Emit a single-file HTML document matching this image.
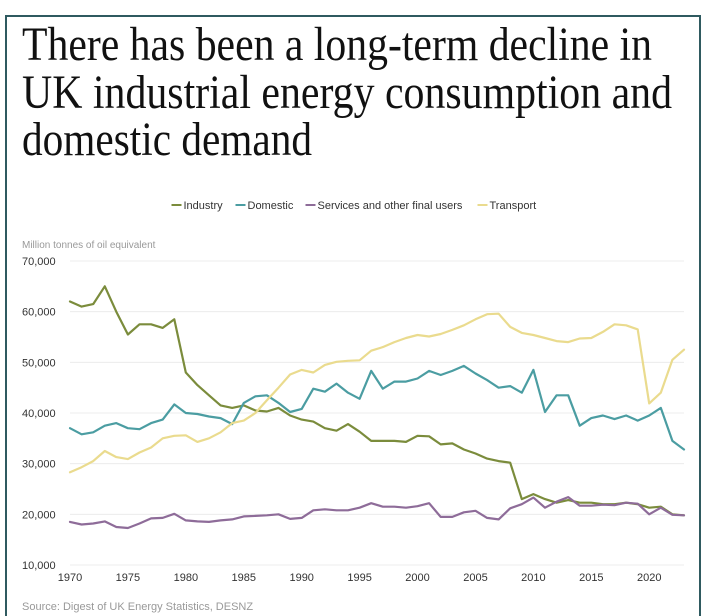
<!DOCTYPE html>
<html><head><meta charset="utf-8"><style>
html,body{margin:0;padding:0;background:#fff;}
body{width:704px;height:616px;position:relative;overflow:hidden;}
svg{position:absolute;left:0;top:0;}
</style></head><body>
<svg width="704" height="616" xmlns="http://www.w3.org/2000/svg">
<rect x="6" y="16" width="694" height="610" fill="#fff" stroke="#2f5a60" stroke-width="2"/>
<g font-family="'Liberation Serif', serif" font-size="48" fill="#111">
<text x="22" y="60" textLength="630" lengthAdjust="spacingAndGlyphs">There has been a long-term decline in</text>
<text x="22" y="108" textLength="650" lengthAdjust="spacingAndGlyphs">UK industrial energy consumption and</text>
<text x="22" y="155" textLength="290" lengthAdjust="spacingAndGlyphs">domestic demand</text>
</g>
<g id="legend" font-family="'Liberation Sans', sans-serif" font-size="11" fill="#333"></g>
<text x="22" y="248" font-family="'Liberation Sans', sans-serif" font-size="10" fill="#999">Million tonnes of oil equivalent</text>
<g id="grid"></g>
<g id="yticks" font-family="'Liberation Sans', sans-serif" font-size="11" fill="#333"></g>
<g id="xticks" font-family="'Liberation Sans', sans-serif" font-size="11" fill="#333"></g>
<g id="lines"></g>
<text x="22" y="610" font-family="'Liberation Sans', sans-serif" font-size="11" fill="#999">Source: Digest of UK Energy Statistics, DESNZ</text>
</svg>
<script>
const years = Array.from({length:54},(_, i)=>1970+i);
const industry = [62,61,61.5,65,60,55.5,57.5,57.5,56.8,58.5,48,45.5,43.5,41.5,41,41.5,40.5,40.3,41,39.5,38.7,38.3,37,36.5,37.8,36.3,34.5,34.5,34.5,34.3,35.5,35.4,33.8,34,32.8,32,31,30.5,30.2,23,24,23,22.3,22.8,22.3,22.3,22,22,22.3,22,21.3,21.5,20,19.8];
const domestic = [37,35.8,36.2,37.5,38,37,36.8,38,38.7,41.7,40,39.8,39.3,39,37.8,42,43.3,43.5,42,40.2,40.8,44.8,44.2,45.8,44,42.8,48.3,44.8,46.2,46.2,46.8,48.3,47.5,48.3,49.3,47.8,46.5,45,45.3,44,48.5,40.2,43.5,43.5,37.5,39,39.5,38.8,39.5,38.5,39.5,41,34.5,32.8];
const services = [18.5,18,18.2,18.6,17.5,17.3,18.2,19.2,19.3,20.1,18.8,18.6,18.5,18.8,19,19.6,19.7,19.8,20,19.1,19.3,20.8,21,20.8,20.8,21.3,22.2,21.5,21.5,21.3,21.6,22.2,19.5,19.5,20.4,20.7,19.3,19,21.2,22,23.3,21.3,22.5,23.4,21.7,21.7,21.9,21.8,22.3,22.1,20,21.3,19.9,19.8];
const transport = [28.3,29.3,30.5,32.5,31.3,30.9,32.2,33.2,35,35.5,35.6,34.3,35,36.2,38,38.5,40,42.5,45,47.6,48.5,48,49.5,50.1,50.3,50.4,52.3,53,54,54.8,55.4,55.1,55.6,56.4,57.3,58.5,59.5,59.6,57,55.8,55.4,54.8,54.2,54,54.7,54.8,56,57.5,57.3,56.5,41.9,44,50.5,52.5];
const yTicks = [10000,20000,30000,40000,50000,60000,70000];
const xTicks = [1970,1975,1980,1985,1990,1995,2000,2005,2010,2015,2020];
const seriesNames = ["Industry","Domestic","Services and other final users","Transport"];
const colors = ["#7b8c3c","#4b9da2","#8e6c99","#eadb8e"];

const NS="http://www.w3.org/2000/svg";
const X = y => 70 + (y-1970)*(614/53);
const Y = v => 565 - (v-10000)*(304/60000);
function mk(tag, attrs, parent){const e=document.createElementNS(NS,tag);for(const k in attrs)e.setAttribute(k,attrs[k]);parent.appendChild(e);return e;}
const grid=document.getElementById('grid'), yt=document.getElementById('yticks'), xt=document.getElementById('xticks'), lines=document.getElementById('lines'), leg=document.getElementById('legend');
yTicks.forEach(t=>{
  const l=mk('line',{x1:70,x2:684,y1:Y(t),y2:Y(t),stroke:'#ececec','stroke-width':1},grid);
  
  
  const tx=mk('text',{x:22,y:Y(t)+4},yt); tx.textContent=t.toLocaleString('en-US');
  
  
});
xTicks.forEach(t=>{
  const tx=mk('text',{x:X(t),y:581,'text-anchor':'middle'},xt); tx.textContent=t;
  
  
});
[industry,domestic,services,transport].forEach((s,i)=>{
  const pts=s.map((v,j)=>X(years[j]).toFixed(1)+','+Y(v*1000).toFixed(1)).join(' ');
  const p=mk('polyline',{points:pts,fill:'none',stroke:colors[i],'stroke-width':2.2,'stroke-linejoin':'round','stroke-linecap':'round'},lines);
  
  
});
// legend
const widths=[52,58,160,55]; let total=widths.reduce((a,b)=>a+b,0)+12*3; let lx=352-total/2;
seriesNames.forEach((n,i)=>{
  const g=mk('g',{},leg);
  
  
  mk('line',{x1:lx,x2:lx+10,y1:205,y2:205,stroke:colors[i],'stroke-width':2},g);
  const t=mk('text',{x:lx+12,y:209},g); t.textContent=n;
  lx+=widths[i]+12;
});
</script>
</body></html>
